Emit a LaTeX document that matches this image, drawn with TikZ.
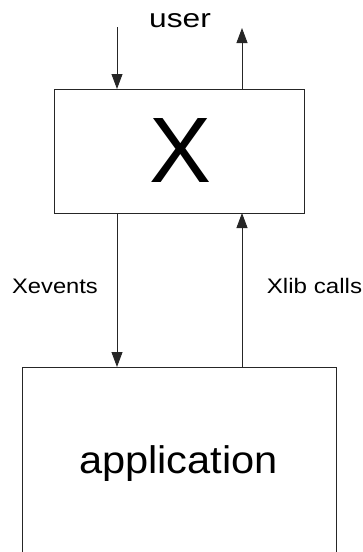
\documentclass[tikz,border=0pt]{standalone}
\usepackage{fontspec}
\usepackage{graphicx}
\setmainfont{Liberation Sans}
\usetikzlibrary{arrows.meta}
\begin{document}
\begin{tikzpicture}[x=1pt,y=-1pt,
  boxstyle/.style={draw=black!85,line width=0.9pt,inner sep=0pt,outer sep=0pt},
  lbl/.style={inner sep=0pt,outer sep=0pt,anchor=base},
  arr/.style={draw=black!85,line width=0.9pt,-{Triangle[length=15pt,width=11pt]}}]
\useasboundingbox (0,0) rectangle (362,552);
\node[boxstyle,minimum width=250pt,minimum height=124pt] (xbox) at (179,151) {};
\node[boxstyle,minimum width=314pt,minimum height=196pt] (appbox) at (179,465) {};
\coordinate (uin) at (117,27);
\coordinate (uout) at (242,28);
\node[lbl] (user) at (180,27) {\fontsize{26}{30}\selectfont\scalebox{1.22}[1]{user}};
\node[lbl] (xlbl) at (181,182) {\fontsize{93}{100}\selectfont X};
\node[lbl] (evlbl) at (55,293) {\fontsize{21}{25}\selectfont\scalebox{1.13}[1]{Xevents}};
\node[lbl] (liblbl) at (314.5,293) {\fontsize{21}{25}\selectfont\scalebox{1.15}[1]{Xlib calls}};
\node[lbl] (applbl) at (178.5,473) {\fontsize{38.5}{44}\selectfont\scalebox{1.08}[1]{application}};
\draw[arr] (uin) -- (uin |- xbox.north);
\draw[arr] (uout |- xbox.north) -- (uout);
\draw[arr] (uin |- xbox.south) -- (uin |- appbox.north);
\draw[arr] (uout |- appbox.north) -- (uout |- xbox.south);
\end{tikzpicture}
\end{document}
